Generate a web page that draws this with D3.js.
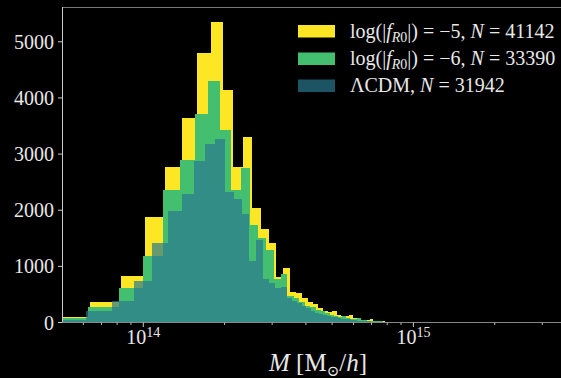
<!DOCTYPE html>
<html><head><meta charset="utf-8">
<script src="https://cdn.jsdelivr.net/npm/d3@7"></script>
<style>
html,body{margin:0;padding:0;background:#000;}
svg{display:block;}
text{font-family:"Liberation Serif","DejaVu Serif",serif;fill:#e8e8e8;}
</style></head>
<body>
<script>
// ---- data (masses in Msun/h, counts per bin) ----
const yellowStart = 0.445e14, yellowWidth = 0.19e14;
const yellowCounts = [93, 360, 834, 1886, 2777, 3640, 4799, 5357, 4144, 2777, 3312, 2046, 1667, 1412, 816, 970,
  538, 520, 442, 360, 330, 253, 205, 180, 205, 134, 121, 121, 134, 75, 86, 45, 45, 45, 57, 27,
  20, 15, 18, 12, 10, 8, 10, 6, 5, 4, 3, 4, 2, 2, 1];
const greenStart = 0.438e14, greenWidth = 0.186e14;
const greenCounts = [80, 282, 610, 1191, 2358, 2897, 3717, 4305, 3431, 2362, 2748, 1738, 1500, 1300, 780, 864,
  480, 430, 360, 300, 280, 230, 200, 170, 140, 110, 90, 120, 80, 70, 60, 75, 45, 40, 30, 35,
  25, 20, 18, 15, 12, 10, 8, 6, 5, 4, 3, 2, 1];
const tealStart = 0.4602e14, tealWidth = 0.1544e14;
const tealCounts = [50, 210, 389, 740, 1422, 1988, 2285, 2879, 3176, 3276, 2321, 2201, 1934, 1100, 1470, 780,
  700, 610, 638, 430, 380, 340, 300, 260, 200, 170, 150, 130, 110, 100, 90, 80, 70, 60, 55, 45,
  40, 35, 30, 25, 20, 18, 15, 12, 10, 8, 6, 5, 4, 3, 2, 1];
const seriesNames = ["f5", "f6", "lcdm"];
const seriesColors = ["#fde725", "#44bf70", "#2a788e"];
const seriesOpacity = [1, 1, 0.7];
const yTicks = [0, 1000, 2000, 3000, 4000, 5000];
const xMajorTicks = [1e14, 1e15];
const xMajorExp = ["14", "15"];
const xMinorTicks = [6e13, 7e13, 8e13, 9e13, 2e14, 3e14, 4e14, 5e14, 6e14, 7e14, 8e14, 9e14, 2e15, 3e15];
const xDomain = [5e13, 3.52e15];
const yMax = 5620;

const W = 561, H = 378;
const m = {left: 62, right: 0, top: 7, bottom: 55.5};
const svg = d3.select("body").append("svg").attr("width", W).attr("height", H);
svg.append("rect").attr("width", W).attr("height", H).attr("fill", "#000");

const x = d3.scaleLog().domain(xDomain).range([m.left, W - m.right]);
const y = d3.scaleLinear().domain([0, yMax]).range([H - m.bottom, m.top]);

svg.append("clipPath").attr("id", "clip").append("rect")
  .attr("x", m.left).attr("y", m.top).attr("width", W - m.right - m.left).attr("height", H - m.bottom - m.top);

function stepData(start, width, counts) {
  const pts = counts.map((c, i) => ({e: start + i * width, c}));
  pts.push({e: start + counts.length * width, c: counts[counts.length - 1]});
  return pts;
}
const area = d3.area().curve(d3.curveStepAfter)
  .x(d => x(d.e)).y0(y(0)).y1(d => y(d.c));

const g = svg.append("g").attr("clip-path", "url(#clip)");
const all = [
  stepData(yellowStart, yellowWidth, yellowCounts),
  stepData(greenStart, greenWidth, greenCounts),
  stepData(tealStart, tealWidth, tealCounts)
];
all.forEach((d, i) => {
  g.append("path").datum(d).attr("d", area)
    .attr("fill", seriesColors[i]).attr("fill-opacity", seriesOpacity[i])
    .attr("shape-rendering", "crispEdges");
});

// spines
const spine = svg.append("g");
spine.append("line").attr("x1", m.left).attr("x2", W).attr("y1", m.top + 0.5).attr("y2", m.top + 0.5).attr("stroke", "#777");
spine.append("line").attr("x1", m.left + 0.5).attr("x2", m.left + 0.5).attr("y1", m.top).attr("y2", y(0)).attr("stroke", "#ccc");
spine.append("line").attr("x1", m.left).attr("x2", W).attr("y1", y(0)).attr("y2", y(0)).attr("stroke", "#888");

// y axis
const yAxis = svg.append("g");
yTicks.forEach(t => {
  yAxis.append("line").attr("x1", m.left - 4).attr("x2", m.left).attr("y1", y(t)).attr("y2", y(t)).attr("stroke", "#ccc");
  yAxis.append("text").attr("x", m.left - 8).attr("y", y(t) + 7).attr("text-anchor", "end")
    .attr("font-size", 20).text(t);
});

// x axis
const xAxis = svg.append("g");
xMinorTicks.forEach(t => {
  xAxis.append("line").attr("x1", x(t)).attr("x2", x(t)).attr("y1", y(0)).attr("y2", y(0) + 2.5).attr("stroke", "#bbb");
});
xMajorTicks.forEach((t, i) => {
  xAxis.append("line").attr("x1", x(t)).attr("x2", x(t)).attr("y1", y(0)).attr("y2", y(0) + 4.5).attr("stroke", "#ccc");
  const tx = xAxis.append("text").attr("x", x(t)).attr("y", 344).attr("text-anchor", "middle").attr("font-size", 20);
  tx.append("tspan").text("10");
  tx.append("tspan").attr("font-size", 14).attr("dy", -7).text(xMajorExp[i]);
});

// x label
const xl = svg.append("text").attr("x", 318).attr("y", 371).attr("text-anchor", "middle").attr("font-size", 25);
xl.append("tspan").attr("font-style", "italic").text("M");
xl.append("tspan").text(" [M");
xl.append("tspan").attr("font-size", 15).attr("dy", 5).text("\u2299");
xl.append("tspan").attr("dy", -5).text("/");
xl.append("tspan").attr("font-style", "italic").text("h");
xl.append("tspan").text("]");

// legend
const leg = svg.append("g");
const legY = [25, 52.5, 79.5];
const legendFill = ["#fde725", "#44bf70", "#2a788e"];
legY.forEach((ly, i) => {
  leg.append("rect").attr("x", 298).attr("y", ly).attr("width", 37).attr("height", 12.5)
    .attr("fill", legendFill[i]).attr("fill-opacity", seriesOpacity[i]);
});
function logLabel(t, val, n) {
  t.append("tspan").text("log(|");
  t.append("tspan").attr("font-style", "italic").text("f");
  t.append("tspan").attr("font-size", 14).attr("dy", 4).attr("font-style", "italic").text("R");
  t.append("tspan").attr("font-size", 14).text("0");
  t.append("tspan").attr("dy", -4).text("|) = \u2212" + val + ", ");
  t.append("tspan").attr("font-style", "italic").text("N");
  t.append("tspan").text(" = " + n);
}
const t1 = leg.append("text").attr("x", 350).attr("y", 38).attr("font-size", 20);
logLabel(t1, 5, 41142);
const t2 = leg.append("text").attr("x", 350).attr("y", 65).attr("font-size", 20);
logLabel(t2, 6, 33390);
const t3 = leg.append("text").attr("x", 350).attr("y", 92).attr("font-size", 20);
t3.append("tspan").text("\u039bCDM, ");
t3.append("tspan").attr("font-style", "italic").text("N");
t3.append("tspan").text(" = 31942");
</script>
</body></html>
